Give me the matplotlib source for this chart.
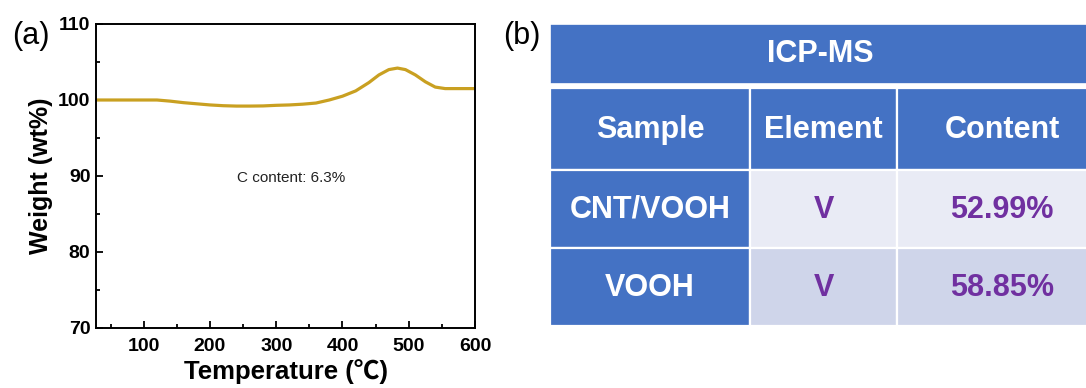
import numpy as np
import matplotlib
matplotlib.use("Agg")
import matplotlib.pyplot as plt
from matplotlib.patches import Rectangle
from matplotlib.ticker import MultipleLocator

plt.rcParams['font.family'] = ['Liberation Sans', 'DejaVu Sans']

# TGA curve (temperature in °C, weight in wt%)
temperature = [30, 60, 100, 120, 140, 160, 180, 200, 220, 240, 260, 280, 300, 320, 340,
               360, 380, 400, 420, 440, 455, 470, 483, 495, 510, 525, 540, 555, 570, 600]
weight = [100.0, 100.0, 100.0, 100.0, 99.85, 99.65, 99.5, 99.35, 99.25, 99.2, 99.2, 99.22, 99.3, 99.35, 99.45,
          99.6, 100.0, 100.5, 101.2, 102.3, 103.3, 104.0, 104.2, 104.0, 103.3, 102.4, 101.7, 101.5, 101.5, 101.5]
annotation = "C content: 6.3%"

# ICP-MS table
table_title = "ICP-MS"
col_headers = ["Sample", "Element", "Content"]
samples = ["CNT/VOOH", "VOOH"]
elements = ["V", "V"]
contents = ["52.99%", "58.85%"]

fig = plt.figure(figsize=(10.86, 3.88), dpi=100)

# ---- (a) TGA panel ----
ax = fig.add_axes([96/1086, 60/388, 379/1086, 304/388])
ax.plot(temperature, weight, color='#C9A021', lw=2.3)
ax.set_xlim(28, 600)
ax.set_ylim(70, 110)
ax.xaxis.set_major_locator(MultipleLocator(100))
ax.xaxis.set_minor_locator(MultipleLocator(50))
ax.yaxis.set_major_locator(MultipleLocator(10))
ax.yaxis.set_minor_locator(MultipleLocator(5))
ax.tick_params(which='both', direction='in', width=1.3, labelsize=14, pad=4)
ax.tick_params(axis='x', which='both', pad=7)
ax.tick_params(which='major', length=5)
ax.tick_params(which='minor', length=3)
for lab in ax.get_xticklabels() + ax.get_yticklabels():
    lab.set_fontweight('bold')
for sp in ax.spines.values():
    sp.set_linewidth(1.4)
ax.set_xlabel("Temperature (\u2103)", fontsize=18.5, fontweight='bold',
              family=['Liberation Sans', 'Noto Sans CJK SC'], labelpad=3)
ax.set_ylabel("Weight (wt%)", fontsize=18, fontweight='bold', labelpad=4)
ax.text(322, 89.7, annotation, fontsize=11, color='#222222', ha='center', va='center')
fig.text(12/1086, 1 - 36/388, "(a)", fontsize=22, ha='left', va='center')

# ---- (b) ICP-MS table ----
tb = fig.add_axes([0, 0, 1, 1])
tb.set_xlim(0, 1086)
tb.set_ylim(388, 0)
tb.axis('off')
fig.text(503/1086, 1 - 36/388, "(b)", fontsize=22, ha='left', va='center')

blue = '#4472C4'
row_fills = ['#E9EBF5', '#CFD5EA']
purple = '#7030A0'
col_edges = [550, 750, 897, 1107]
title_band = (24, 84)
row_bands = [(88, 170), (170, 248), (248, 326)]

tb.add_patch(Rectangle((col_edges[0], title_band[0]), col_edges[-1] - col_edges[0],
                       title_band[1] - title_band[0], facecolor=blue, edgecolor='white', lw=1.2))
tb.text((col_edges[0] + 1086) / 2 + 2, sum(title_band) / 2, table_title, color='white',
        fontsize=22, fontweight='bold', ha='center', va='center')

rows = [col_headers] + [[s, e, c] for s, e, c in zip(samples, elements, contents)]
for r, (cells, (y0, y1)) in enumerate(zip(rows, row_bands)):
    for c, txt in enumerate(cells):
        x0, x1 = col_edges[c], col_edges[c + 1]
        if r == 0 or c == 0:
            fc, tc = blue, 'white'
        else:
            fc, tc = row_fills[r - 1], purple
        tb.add_patch(Rectangle((x0, y0), x1 - x0, y1 - y0, facecolor=fc,
                               edgecolor='white', lw=1.6))
        tb.text((x0 + x1) / 2, (y0 + y1) / 2 + 1, txt, color=tc, fontsize=22,
                fontweight='bold', ha='center', va='center')

fig.savefig("out.png", dpi=100)
